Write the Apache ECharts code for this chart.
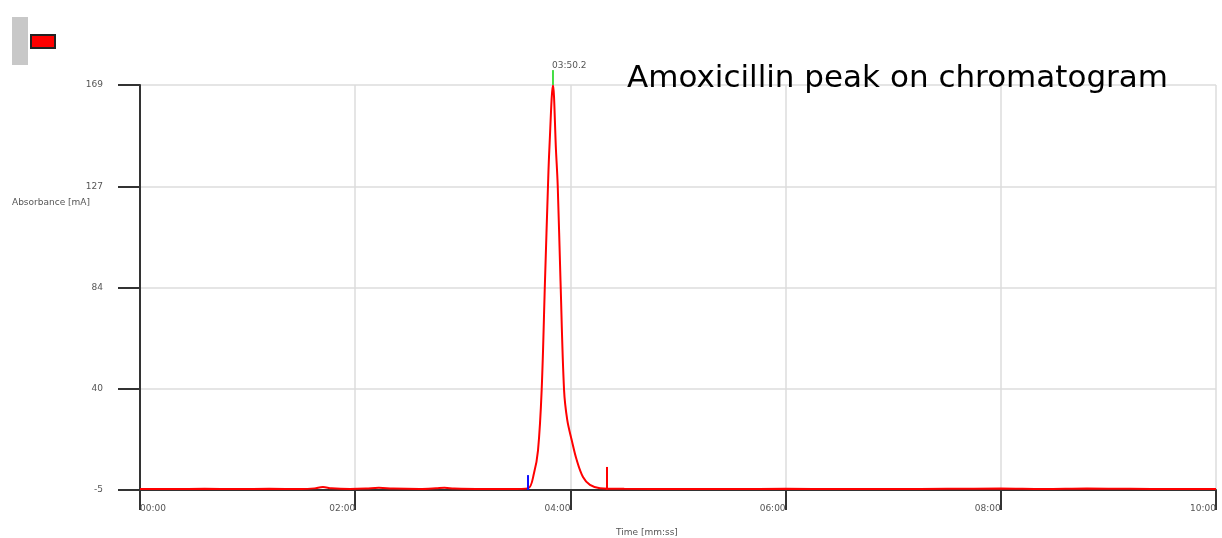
<!DOCTYPE html>
<html><head><meta charset="utf-8">
<script src="https://cdn.jsdelivr.net/npm/echarts@6/dist/echarts.min.js"></script>
<style>html,body{margin:0;padding:0;background:#fff}#c{width:1222px;height:538px}</style>
</head><body><div id="c"></div>
<script>
// Chromatogram trace: time (min) and absorbance (mA)
const traceTime = [0, 0.3, 0.6, 0.9, 1.2, 1.5, 1.62, 1.70, 1.78, 1.95, 2.1, 2.22, 2.35, 2.6, 2.75, 2.83, 2.92, 3.2, 3.45, 3.606,
  3.662, 3.699, 3.733, 3.764, 3.792, 3.804, 3.838, 3.866, 3.882, 3.908, 3.941, 3.971, 4.012, 4.058, 4.117, 4.182, 4.275,
  4.5, 5.0, 5.5, 6.0, 6.5, 7.0, 7.5, 8.0, 8.4, 8.8, 9.2, 9.6, 10.0];
const traceAbs = [-4.6, -4.6, -4.5, -4.6, -4.5, -4.6, -4.3, -3.7, -4.3, -4.6, -4.4, -4.0, -4.4, -4.6, -4.3, -4.0, -4.4, -4.6, -4.6, -4.3,
  2.3, 12, 38, 85, 126, 141, 169, 141, 126, 85, 38, 25, 16.5, 8, 0.6, -2.8, -4.2,
  -4.5, -4.6, -4.6, -4.5, -4.6, -4.6, -4.5, -4.4, -4.6, -4.4, -4.5, -4.6, -4.6];
// Peak markers
const peakStart = [[3.606, -5], [3.606, 1.4]];
const peakEnd = [[4.34, -5], [4.34, 4.9]];
const apexMark = [[3.838, 169], [3.838, 175.4]];
const apexLabel = '03:50.2';
// Axis ticks
const xTickLabels = ['00:00', '02:00', '04:00', '06:00', '08:00', '10:00'];
const yTickLabels = ['-5', '40', '84', '127', '169'];
const yMin = -5, yMax = 169, yStep = 43.5;

const chart = echarts.init(document.getElementById('c'), null, {renderer: 'canvas'});
const small = {fontFamily: 'DejaVu Sans', fontSize: 9, color: '#555'};
chart.setOption({
  animation: false,
  grid: {left: 140, right: 6, top: 85, bottom: 48, containLabel: false},
  title: {text: 'Amoxicillin peak on chromatogram', left: 627, top: 63, padding: 0,
    textStyle: {fontFamily: 'DejaVu Sans', fontSize: 31, fontWeight: 'normal', color: '#000'}},
  legend: {left: 30, top: 34, padding: 0, itemWidth: 24, itemHeight: 13, data: [{name: 'trace', icon: 'rect',
    itemStyle: {color: '#ff0000', borderColor: '#222', borderWidth: 2}}], formatter: () => '',
    selectedMode: false},
  graphic: [
    {type: 'rect', shape: {x: 12, y: 17, width: 16, height: 48}, style: {fill: '#c8c8c8'}},
    {type: 'text', left: 12, top: 198, style: {text: 'Absorbance [mA]', font: '9px DejaVu Sans', fill: '#555'}},
    {type: 'text', left: 616, top: 528, style: {text: 'Time [mm:ss]', font: '9px DejaVu Sans', fill: '#555'}}
  ],
  xAxis: {type: 'value', min: 0, max: 10, interval: 2,
    axisLine: {show: true, onZero: false, lineStyle: {color: '#333', width: 2}},
    axisTick: {show: true, length: 20, lineStyle: {color: '#333', width: 2}},
    axisLabel: Object.assign({margin: 14, align: 'right', alignMinLabel: 'left',
      formatter: v => xTickLabels[Math.round(v / 2)]}, small),
    splitLine: {show: true, lineStyle: {color: '#dcdcdc', width: 1.5}}},
  yAxis: {type: 'value', min: yMin, max: yMax, interval: yStep,
    axisLine: {show: true, onZero: false, lineStyle: {color: '#333', width: 2}},
    axisTick: {show: true, length: 22, lineStyle: {color: '#333', width: 2}},
    axisLabel: Object.assign({margin: 37, formatter: v => yTickLabels[Math.round((v - yMin) / yStep)]}, small),
    splitLine: {show: true, lineStyle: {color: '#dcdcdc', width: 1.5}}},
  series: [
    {name: 'trace', type: 'line', data: traceTime.map((t, i) => [t, traceAbs[i]]), showSymbol: false,
      smooth: 0.35, lineStyle: {color: '#ff0000', width: 2}, itemStyle: {color: '#ff0000'}, z: 5},
    {type: 'line', data: peakStart, showSymbol: false, lineStyle: {color: '#1010ff', width: 2}, z: 6},
    {type: 'line', data: peakEnd, showSymbol: false, lineStyle: {color: '#ff0000', width: 2}, z: 6},
    {type: 'line', clip: false, data: [apexMark[0], {value: apexMark[1], label: {show: true, formatter: apexLabel,
        position: 'top', align: 'left', offset: [-1, 5], fontFamily: 'DejaVu Sans', fontSize: 9, color: '#555'}}],
      symbol: 'circle', symbolSize: 0, showSymbol: true, lineStyle: {color: '#44dd44', width: 2}, z: 6}
  ]
});
</script></body></html>
